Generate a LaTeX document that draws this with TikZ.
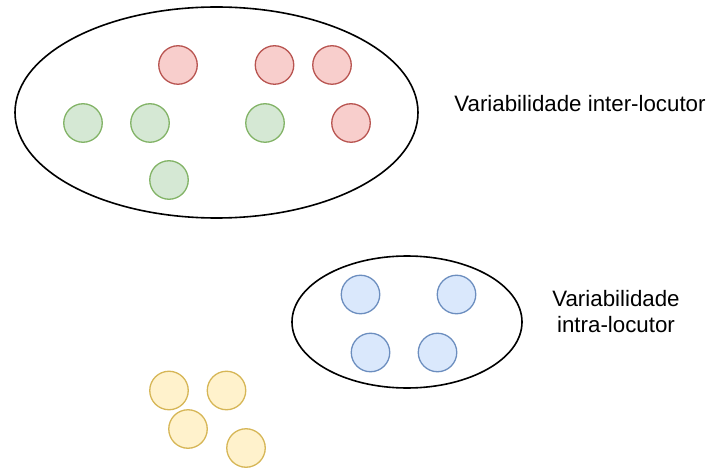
\documentclass[tikz,border=0pt]{standalone}
\usepackage{fontspec}
\setmainfont{Liberation Sans}
\usetikzlibrary{shapes.geometric}
\definecolor{redfill}{HTML}{F8CECC}
\definecolor{redline}{HTML}{B85450}
\definecolor{greenfill}{HTML}{D5E8D4}
\definecolor{greenline}{HTML}{82B366}
\definecolor{bluefill}{HTML}{DAE8FC}
\definecolor{blueline}{HTML}{6C8EBF}
\definecolor{yellowfill}{HTML}{FFF2CC}
\definecolor{yellowline}{HTML}{D6B656}
\tikzset{
  dot/.style={circle, minimum size=38.5pt, inner sep=0pt, line width=1.3pt},
  reddot/.style={dot, draw=redline, fill=redfill},
  greendot/.style={dot, draw=greenline, fill=greenfill},
  bluedot/.style={dot, draw=blueline, fill=bluefill},
  yellowdot/.style={dot, draw=yellowline, fill=yellowfill},
  group/.style={ellipse, draw=black, line width=1.6pt, inner sep=0pt},
  label/.style={font=\fontsize{22.3pt}{26.8pt}\selectfont, inner sep=0pt, align=center}
}
\begin{document}
\begin{tikzpicture}[x=1pt, y=-1pt]
\useasboundingbox (0,0) rectangle (725,470);
% groups
\node[group, minimum width=403pt, minimum height=211pt] (inter) at (216.5,112.5) {};
\node[group, minimum width=230pt, minimum height=132pt] (intra) at (407,322) {};
% red
\node[reddot] (r1) at (178,65) {};
\node[reddot] (r2) at (274.5,65) {};
\node[reddot] (r3) at (332,65) {};
\node[reddot] (r4) at (351,123) {};
% green
\node[greendot] (g1) at (83,123) {};
\node[greendot] (g2) at (150,123) {};
\node[greendot] (g3) at (265,123) {};
\node[greendot] (g4) at (169,180) {};
% blue
\node[bluedot] (b1) at (360.5,294.5) {};
\node[bluedot] (b2) at (456.5,294.5) {};
\node[bluedot] (b3) at (370.5,352.5) {};
\node[bluedot] (b4) at (437.5,352.5) {};
% yellow
\node[yellowdot] (y1) at (169,390.5) {};
\node[yellowdot] (y2) at (226.5,390.5) {};
\node[yellowdot] (y3) at (188,429) {};
\node[yellowdot] (y4) at (246,448) {};
% labels
\node[label] (tinter) at (580,104) {Variabilidade inter-locutor};
\node[label] (tintra) at (616,311.5) {Variabilidade\\intra-locutor};
\end{tikzpicture}
\end{document}
